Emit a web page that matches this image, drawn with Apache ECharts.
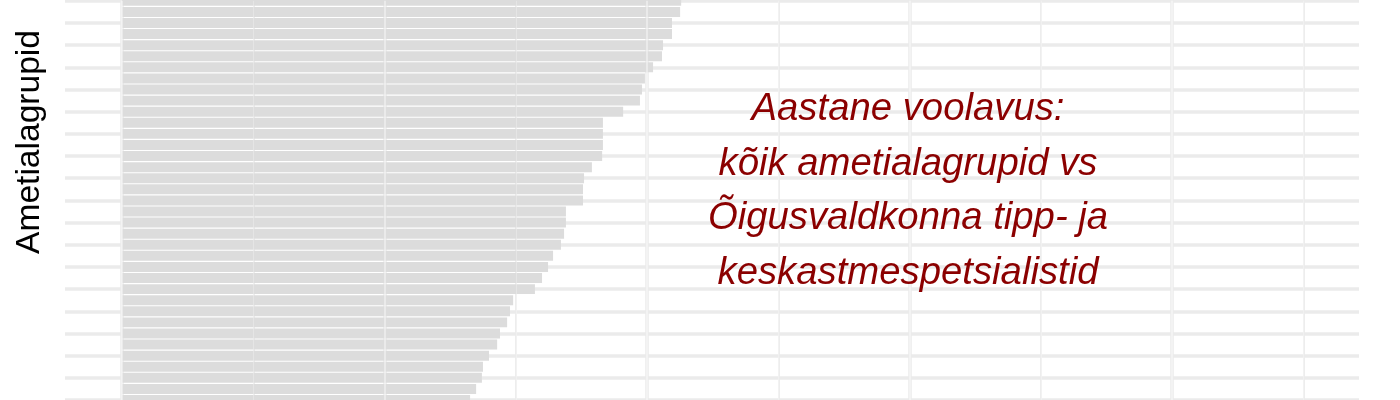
<!DOCTYPE html>
<html>
<head>
<meta charset="utf-8">
<script src="https://cdn.jsdelivr.net/npm/echarts@6/dist/echarts.min.js"></script>
<style>
html,body{margin:0;padding:0;background:#fff;}
#chart{width:1400px;height:400px;}
</style>
</head>
<body>
<div id="chart"></div>
<script>
// Categories (occupation groups, sorted by annual turnover), top to bottom
const categories = [
  "Grupp 01","Grupp 02","Grupp 03","Grupp 04","Grupp 05","Grupp 06","Grupp 07","Grupp 08",
  "Grupp 09","Grupp 10","Grupp 11","Grupp 12","Grupp 13","Grupp 14","Grupp 15","Grupp 16",
  "Grupp 17","Grupp 18","Grupp 19","Grupp 20","Grupp 21","Grupp 22","Grupp 23","Grupp 24",
  "Grupp 25","Grupp 26","Grupp 27","Grupp 28","Grupp 29","Grupp 30","Grupp 31","Grupp 32",
  "Grupp 33","Grupp 34","Grupp 35","Grupp 36","Grupp 37"
];
// Annual turnover (%) per group
const turnover = [
  21.30, 21.26, 20.95, 20.95, 20.61, 20.57, 20.23, 19.92,
  19.81, 19.73, 19.09, 18.32, 18.32, 18.32, 18.29, 17.90,
  17.60, 17.56, 17.56, 16.91, 16.91, 16.84, 16.72, 16.42,
  16.23, 16.00, 15.73, 14.90, 14.78, 14.67, 14.40, 14.29,
  13.98, 13.75, 13.71, 13.49, 13.26
];
// x-axis gridline positions (%)
const majorTicks = [0, 10, 20, 30, 40];
const minorTicks = [5, 15, 25, 35, 45];
const xRange = [-2.171, 47.12];

const yTitle = "Ametialagrupid";
const noteLines = [
  "Aastane voolavus:",
  "kõik ametialagrupid vs",
  "Õigusvaldkonna tipp- ja",
  "keskastmespetsialistid"
];

const chart = echarts.init(document.getElementById('chart'), null, {renderer: 'canvas'});

function vlines(ticks, color, width, z) {
  return {
    silent: true,
    symbol: 'none',
    z: z,
    label: {show: false},
    emphasis: {disabled: true},
    lineStyle: {color: color, width: width, type: 'solid', opacity: 1},
    data: ticks.map(v => ({xAxis: v}))
  };
}

const option = {
  backgroundColor: '#ffffff',
  animation: false,
  grid: {left: 65, right: 41, top: 0.82, bottom: -3.2, containLabel: false},
  xAxis: {
    type: 'value',
    min: xRange[0],
    max: xRange[1],
    axisLine: {show: false},
    axisTick: {show: false},
    axisLabel: {show: false},
    splitLine: {show: false}
  },
  yAxis: {
    type: 'category',
    data: categories,
    inverse: true,
    boundaryGap: false,
    axisLine: {show: false},
    axisTick: {show: false},
    axisLabel: {show: false},
    splitLine: {show: true, lineStyle: {color: '#ebebeb', width: 3.5}}
  },
  series: [
    {
      type: 'line',
      data: [],
      z: 1,
      markLine: vlines(majorTicks, '#ebebeb', 3.5, 1)
    },
    {
      type: 'line',
      data: [],
      z: 1,
      markLine: vlines(minorTicks, '#ebebeb', 1.8, 1)
    },
    {
      type: 'bar',
      data: turnover,
      barWidth: '90%',
      clip: false,
      z: 2,
      itemStyle: {color: '#dcdcdc'},
      emphasis: {disabled: true},
      markLine: vlines(majorTicks, 'rgba(255,255,255,0.4)', 2, 3)
    },
    {
      type: 'line',
      data: [],
      z: 3,
      markLine: vlines(minorTicks, 'rgba(255,255,255,0.28)', 1, 3)
    }
  ],
  graphic: [
    {
      type: 'text',
      x: 29.5,
      y: 142,
      rotation: Math.PI / 2,
      z: 10,
      style: {
        text: yTitle,
        font: '33.6px "Liberation Sans", Arial, sans-serif',
        fill: '#000000',
        align: 'center',
        verticalAlign: 'middle'
      }
    },
    {
      type: 'text',
      x: 908,
      y: 82.5,
      z: 10,
      style: {
        text: noteLines.join('\n'),
        font: 'italic 38.3px "Liberation Sans", Arial, sans-serif',
        fill: '#8b0000',
        align: 'center',
        verticalAlign: 'top',
        lineHeight: 54.5
      }
    }
  ]
};
chart.setOption(option);
</script>
</body>
</html>
